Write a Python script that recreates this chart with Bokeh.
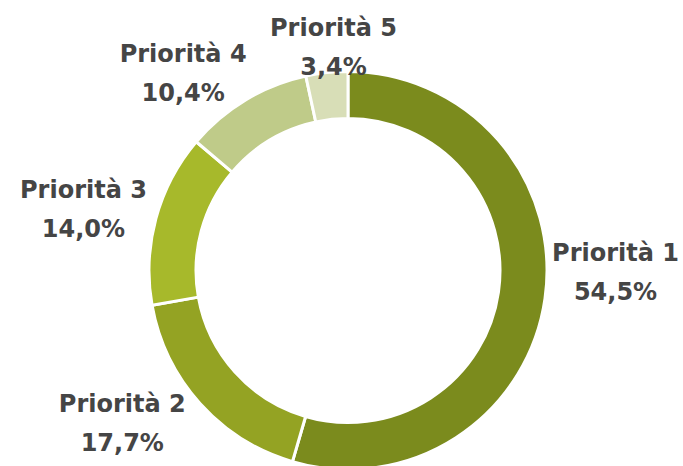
import math
from bokeh.plotting import figure
from bokeh.models import ColumnDataSource, Range1d
from bokeh.core.properties import value
from bokeh.embed import file_html
from bokeh.resources import INLINE

# ---- data ----
categories = ["Priorità 1", "Priorità 2", "Priorità 3", "Priorità 4", "Priorità 5"]
shares = [54.5, 17.7, 14.0, 10.4, 3.4]
pct_labels = ["54,5%", "17,7%", "14,0%", "10,4%", "3,4%"]

# ---- style ----
colors = ["#7B8B1D", "#94A323", "#A7B92B", "#BFCB89", "#D8DEB7"]
label_dx = [70.5, -77.7, -72.4, -62.5, 6.7]
label_dy = [26.2, -19.8, 9.4, 26.1, 24.7]

W, H = 683, 466
cx, cy = 347.5, 196.0
r_out, r_in = 199.0, 152.0
line_gap = 19.5

total = sum(shares)
starts, ends, mids = [], [], []
cum = 0.0
for s in shares:
    a0 = math.pi / 2 - 2 * math.pi * cum / total
    cum += s
    a1 = math.pi / 2 - 2 * math.pi * cum / total
    starts.append(a0)
    ends.append(a1)
    mids.append((a0 + a1) / 2)

lx = [cx + r_out * math.cos(m) + dx for m, dx in zip(mids, label_dx)]
ly = [cy + r_out * math.sin(m) + dy for m, dy in zip(mids, label_dy)]

src = ColumnDataSource(dict(
    start=starts, end=ends, color=colors,
    name=categories, pct=pct_labels,
    ny=[y + line_gap for y in ly], py=[y - line_gap for y in ly], lx=lx,
))

p = figure(width=W, height=H, output_backend="svg", toolbar_location=None,
           x_range=Range1d(0, W), y_range=Range1d(0, H), min_border=0)
p.axis.visible = False
p.grid.visible = False
p.outline_line_color = None
p.background_fill_color = "white"
p.border_fill_color = "white"

p.annular_wedge(x=cx, y=cy, inner_radius=r_in, outer_radius=r_out,
                start_angle="start", end_angle="end", direction="clock",
                fill_color="color", line_color="white", line_width=3, source=src)

common = dict(text_align="center", text_baseline="middle",
              text_font=value("DejaVu Sans"), text_font_style="bold",
              text_font_size="24px", text_color="#454545", source=src)
p.text(x="lx", y="ny", text="name", **common)
p.text(x="lx", y="py", text="pct", **common)

open("out.html", "w").write(file_html(p, INLINE))
